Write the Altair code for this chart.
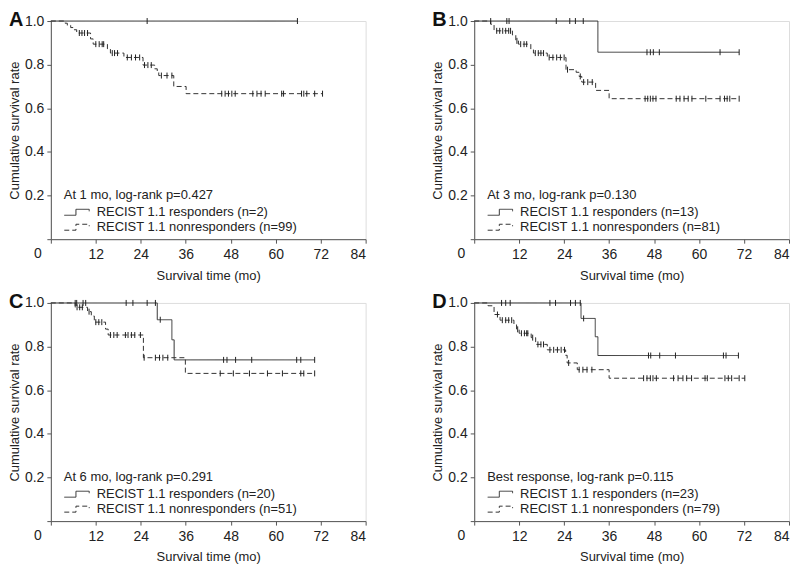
import altair as alt
import pandas as pd

FONT = "Liberation Sans"
TXT = "#222222"
LINE = "#333333"

# ---------------- Panel A ----------------
A_letter = "A"
A_title = "At 1 mo, log-rank p=0.427"
A_n_resp, A_n_non = 2, 99
A_r_evt_t = []
A_r_evt_s = []
A_r_cens = [25.7, 65.8]
A_n_evt_t = [3.8, 4.4, 5.3, 6.2, 6.9, 10.6, 11.3, 15.1, 15.9, 19.5, 24.6, 27.7, 28.4, 28.8, 32.8, 36.1]
A_n_evt_s = [0.99, 0.98, 0.97, 0.96, 0.945, 0.918, 0.894, 0.872, 0.853, 0.833, 0.798, 0.781, 0.765, 0.75, 0.70, 0.667]
A_n_cens = [7.6, 8.3, 9.0, 9.8, 12.0, 12.9, 13.7, 14.1, 16.4, 17.0, 17.8, 20.4, 21.5, 22.6, 23.7,
            25.0, 25.9, 26.8, 29.5, 31.0, 32.3, 45.6, 46.5, 47.4, 48.3, 49.2, 53.9, 55.0, 56.1,
            57.2, 61.6, 62.1, 66.9, 67.5, 68.3, 70.4, 72.5]

# ---------------- Panel B ----------------
B_letter = "B"
B_title = "At 3 mo, log-rank p=0.130"
B_n_resp, B_n_non = 13, 81
B_r_evt_t = [33.0]
B_r_evt_s = [0.857]
B_r_cens = [4.4, 8.7, 9.3, 21.9, 25.5, 27.0, 29.1, 46.1, 47.0, 47.8, 49.4, 65.6, 70.7]
B_n_evt_t = [4.4, 5.3, 10.2, 11.1, 11.8, 15.1, 15.8, 19.5, 24.5, 27.2, 28.0, 28.7, 32.4, 36.0]
B_n_evt_s = [0.985, 0.955, 0.936, 0.909, 0.894, 0.868, 0.853, 0.833, 0.777, 0.765, 0.746, 0.72, 0.682, 0.644]
B_n_cens = [6.0, 6.8, 7.6, 8.4, 9.2, 9.7, 11.4, 12.4, 13.3, 14.0, 16.3, 17.1, 17.8, 18.5, 20.0,
            21.0, 22.0, 23.0, 24.0, 24.9, 28.3, 29.2, 30.3, 31.5, 45.6, 46.3, 47.0, 47.7, 48.5,
            53.9, 54.9, 56.0, 57.1, 58.1, 61.8, 65.6, 66.8, 67.5, 68.2, 70.7]

# ---------------- Panel C ----------------
C_letter = "C"
C_title = "At 6 mo, log-rank p=0.291"
C_n_resp, C_n_non = 20, 51
C_r_evt_t = [28.4, 32.3, 32.9]
C_r_evt_s = [0.923, 0.831, 0.739]
C_r_cens = [6.5, 6.9, 8.6, 9.3, 20.1, 21.9, 25.7, 27.9, 29.2, 46.1, 47.0, 49.3, 53.6, 65.6, 66.7, 70.4]
C_n_evt_t = [6.5, 9.8, 10.8, 11.6, 14.6, 15.3, 24.7, 35.9]
C_n_evt_s = [0.980, 0.960, 0.940, 0.912, 0.880, 0.853, 0.749, 0.677]
C_n_cens = [7.0, 7.7, 8.4, 10.2, 12.0, 12.8, 13.6, 15.9, 16.8, 17.7, 19.9, 20.6, 21.5, 22.4, 23.9,
            24.9, 27.9, 29.0, 29.9, 31.2, 45.2, 48.7, 53.0, 57.8, 61.8, 66.7, 67.5, 70.4]

# ---------------- Panel D ----------------
D_letter = "D"
D_title = "Best response, log-rank p=0.115"
D_n_resp, D_n_non = 23, 79
D_r_evt_t = [28.5, 32.3, 33.0]
D_r_evt_s = [0.929, 0.845, 0.759]
D_r_cens = [7.3, 8.4, 9.6, 20.2, 21.7, 25.7, 27.0, 28.3, 29.2, 46.5, 47.1, 49.5, 53.7, 66.5, 67.2, 70.5]
D_n_evt_t = [3.7, 5.3, 6.9, 10.6, 11.3, 12.0, 15.2, 16.4, 19.5, 24.4, 24.8, 27.5, 36.0]
D_n_evt_s = [0.987, 0.947, 0.921, 0.900, 0.879, 0.861, 0.841, 0.810, 0.785, 0.760, 0.725, 0.694, 0.655]
D_n_cens = [6.2, 7.5, 8.4, 9.2, 10.0, 11.6, 12.6, 13.4, 14.0, 14.3, 15.6, 17.0, 17.8, 18.5, 20.2,
            21.2, 22.2, 23.2, 24.1, 25.2, 28.0, 29.0, 30.1, 31.4, 45.2, 46.1, 47.0, 47.7, 48.6,
            53.2, 54.4, 55.7, 56.7, 58.0, 61.6, 62.2, 66.9, 67.8, 68.7, 70.7, 72.2]

X_TICKS = [0, 12, 24, 36, 48, 60, 72, 84]
Y_TICKS = [0, 0.2, 0.4, 0.6, 0.8, 1.0]

# legend key: small step drawn in a 13px symbol box, extending 25px to the right
LEGEND_PATH = "M-1,0.46L0.8,0.46L0.8,-0.46L2.85,-0.46L2.85,-0.15"
CENSOR_PATH = "M0,-1L0,1"


def level_at(t, et, es):
    s = 1.0
    for ti, si in zip(et, es):
        if ti <= t:
            s = si
    return s


def panel(letter, title, n_r, n_n, r_et, r_es, r_c, n_et, n_es, n_c):
    lab_r = f"RECIST 1.1 responders (n={n_r})"
    lab_n = f"RECIST 1.1 nonresponders (n={n_n})"
    line_rows, cens_rows = [], []
    for lab, et, es, cs in [(lab_r, r_et, r_es, r_c), (lab_n, n_et, n_es, n_c)]:
        end = max(list(et) + list(cs))
        pts = [(0.0, 1.0)] + list(zip(et, es)) + [(end, es[-1] if es else 1.0)]
        for i, (t, s) in enumerate(pts):
            line_rows.append({"t": t, "s": s, "g": lab, "i": i})
        for t in cs:
            cens_rows.append({"t": t, "s": level_at(t, et, es), "g": lab})
    ldf = pd.DataFrame(line_rows)
    cdf = pd.DataFrame(cens_rows)

    x_enc = alt.X("t:Q", scale=alt.Scale(domain=[0, 84], nice=False, zero=False),
                  axis=alt.Axis(values=X_TICKS, labelExpr="datum.value == 0 ? '' : datum.label",
                                title="Survival time (mo)", grid=False, tickSize=4,
                                labelPadding=4, titlePadding=8, labelFontSize=14,
                                titleFontSize=13, titleFontWeight="normal"))
    y_enc = alt.Y("s:Q", scale=alt.Scale(domain=[0, 1], nice=False),
                  axis=alt.Axis(values=Y_TICKS, format=".1f",
                                labelExpr="datum.value == 0 ? '' : datum.label",
                                title="Cumulative survival rate", grid=False, tickSize=4,
                                labelPadding=3, titlePadding=3, labelFontSize=14,
                                titleFontSize=13, titleFontWeight="normal"))

    lines = alt.Chart(ldf).mark_line(interpolate="step-after", strokeWidth=1, color=LINE).encode(
        x=x_enc, y=y_enc,
        order="i:Q",
        strokeDash=alt.StrokeDash(
            "g:N",
            scale=alt.Scale(domain=[lab_r, lab_n], range=[[1, 0], [5, 3]]),
            legend=alt.Legend(title=title, orient="none", legendX=13, legendY=169,
                              symbolType=LEGEND_PATH, symbolSize=169, symbolStrokeWidth=1,
                              symbolStrokeColor=LINE, symbolFillColor="transparent",
                              labelFontSize=13, titleFontSize=13, titleFontWeight="normal",
                              titleColor=TXT, labelColor=TXT, labelOffset=19, titlePadding=3,
                              rowPadding=1, padding=0, labelLimit=400, titleLimit=400),
        ),
    )
    cens = alt.Chart(cdf).mark_point(shape=CENSOR_PATH, size=36, strokeWidth=1, color="#222222",
                                     filled=False, opacity=1).encode(x=x_enc, y=y_enc)
    zero = alt.Chart(pd.DataFrame({"t": [0.0], "s": [0.0], "lab": ["0"]})).mark_text(
        dx=-13, dy=15, fontSize=14, color=TXT, baseline="middle", align="center"
    ).encode(x=x_enc, y=y_enc, text="lab:N")
    let = alt.Chart(pd.DataFrame({"lab": [letter]})).mark_text(
        fontSize=20, fontWeight="bold", color="#111111", align="left", baseline="alphabetic"
    ).encode(x=alt.value(-42), y=alt.value(5), text="lab:N")
    return alt.layer(lines, cens, zero, let).properties(width=316, height=219)


pA = panel(A_letter, A_title, A_n_resp, A_n_non, A_r_evt_t, A_r_evt_s, A_r_cens, A_n_evt_t, A_n_evt_s, A_n_cens)
pB = panel(B_letter, B_title, B_n_resp, B_n_non, B_r_evt_t, B_r_evt_s, B_r_cens, B_n_evt_t, B_n_evt_s, B_n_cens)
pC = panel(C_letter, C_title, C_n_resp, C_n_non, C_r_evt_t, C_r_evt_s, C_r_cens, C_n_evt_t, C_n_evt_s, C_n_cens)
pD = panel(D_letter, D_title, D_n_resp, D_n_non, D_r_evt_t, D_r_evt_s, D_r_cens, D_n_evt_t, D_n_evt_s, D_n_cens)

chart = alt.concat(pA, pB, pC, pD, columns=2, bounds="flush",
                   spacing=alt.RowColnumber(row=64, column=109)).resolve_scale(
    strokeDash="independent").resolve_legend(strokeDash="independent").properties(
    padding=0
).configure_view(stroke=None).configure(font=FONT).configure_axis(
    domainColor="#555555", tickColor="#555555", labelColor=TXT, titleColor=TXT,
    labelFont=FONT, titleFont=FONT, domainWidth=1, tickWidth=1
).configure_legend(labelFont=FONT, titleFont=FONT)

chart.save("out.html", embed_options={"renderer": "svg", "actions": False})
